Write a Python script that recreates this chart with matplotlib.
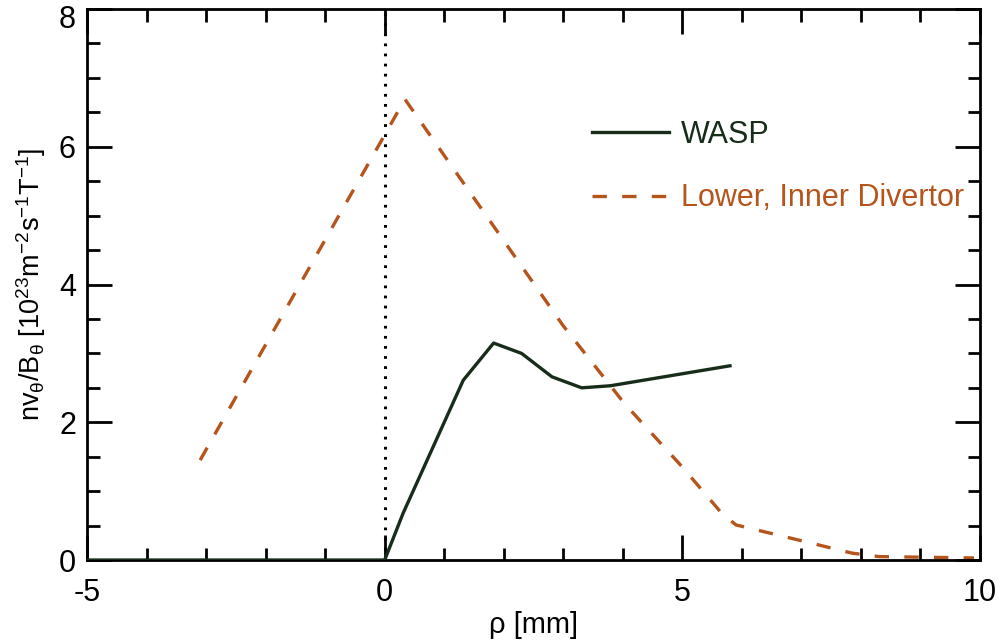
import numpy as np
import matplotlib.pyplot as plt
from matplotlib.ticker import MultipleLocator
from matplotlib.transforms import ScaledTranslation

plt.rcParams['font.family'] = ['Liberation Sans', 'DejaVu Sans']
plt.rcParams['mathtext.fontset'] = 'custom'
plt.rcParams['mathtext.rm'] = 'Liberation Sans'
plt.rcParams['mathtext.it'] = 'Liberation Sans:italic'
plt.rcParams['mathtext.default'] = 'regular'
plt.rcParams['axes.unicode_minus'] = False

WASP_COLOR = '#172d1a'
DIV_COLOR = '#b5541b'

# WASP probe profile (zero outside the measured range on the left)
wasp_rho = [-5.0, 0.0, 0.31, 1.32, 1.83, 2.30, 2.81, 3.31, 3.79, 5.80]
wasp_flux = [0.0, 0.0, 0.68, 2.61, 3.15, 3.00, 2.66, 2.50, 2.53, 2.82]

# lower, inner divertor profile
div_rho = [-3.10, 0.34, 3.00, 4.02, 5.00, 5.66, 5.90, 7.00, 7.85, 8.30, 9.90]
div_flux = [1.45, 6.69, 3.40, 2.28, 1.35, 0.68, 0.51, 0.28, 0.10, 0.05, 0.03]

x_ticks = [-5, 0, 5, 10]
y_ticks = [0, 2, 4, 6, 8]


def main() -> None:
    fig = plt.figure(figsize=(10, 6.44), dpi=100)
    ax = fig.add_axes([0.087, 0.1304, 0.893, 0.8556])

    ax.axvline(0, color='black', linewidth=2.2, linestyle=(0, (0.9, 2.4)), zorder=1)
    ax.plot(wasp_rho, wasp_flux, color=WASP_COLOR, linewidth=2.4, label='WASP', zorder=3)
    ax.plot(div_rho, div_flux, color=DIV_COLOR, linewidth=2.4, linestyle=(0, (4.3, 4.6)),
            label='Lower, Inner Divertor', zorder=2)

    ax.set_xlim(-5, 10)
    ax.set_ylim(0, 8)
    ax.set_xticks(x_ticks)
    ax.set_yticks(y_ticks)
    ax.xaxis.set_minor_locator(MultipleLocator(1))
    ax.yaxis.set_minor_locator(MultipleLocator(0.5))
    ax.tick_params(which='both', direction='in', top=True, right=True, width=2, labelsize=22)
    ax.tick_params(which='major', length=18, pad=8)
    ax.tick_params(axis='x', which='major', pad=13)
    ax.tick_params(which='minor', length=9)
    for spine in ax.spines.values():
        spine.set_linewidth(2)

    # top label sits a little lower, as in the original
    top_label = ax.yaxis.get_major_ticks()[len(y_ticks) - 1].label1
    top_label.set_transform(top_label.get_transform() + ScaledTranslation(0, -0.07, fig.dpi_scale_trans))

    ax.set_xlabel('ρ [mm]', fontsize=21, labelpad=2)
    ax.set_ylabel(r'nv$_θ$/B$_θ$ [10$^{23}$m$^{-2}$s$^{-1}$T$^{-1}$]', fontsize=19.5, labelpad=8)

    ax.legend(loc='center left', bbox_to_anchor=(0.565, 0.714), frameon=False, fontsize=22,
              handlelength=2.55, handletextpad=0.38, labelspacing=1.1, borderpad=0,
              borderaxespad=0, labelcolor='linecolor')

    fig.savefig('out.png', dpi=100)


if __name__ == '__main__':
    main()
